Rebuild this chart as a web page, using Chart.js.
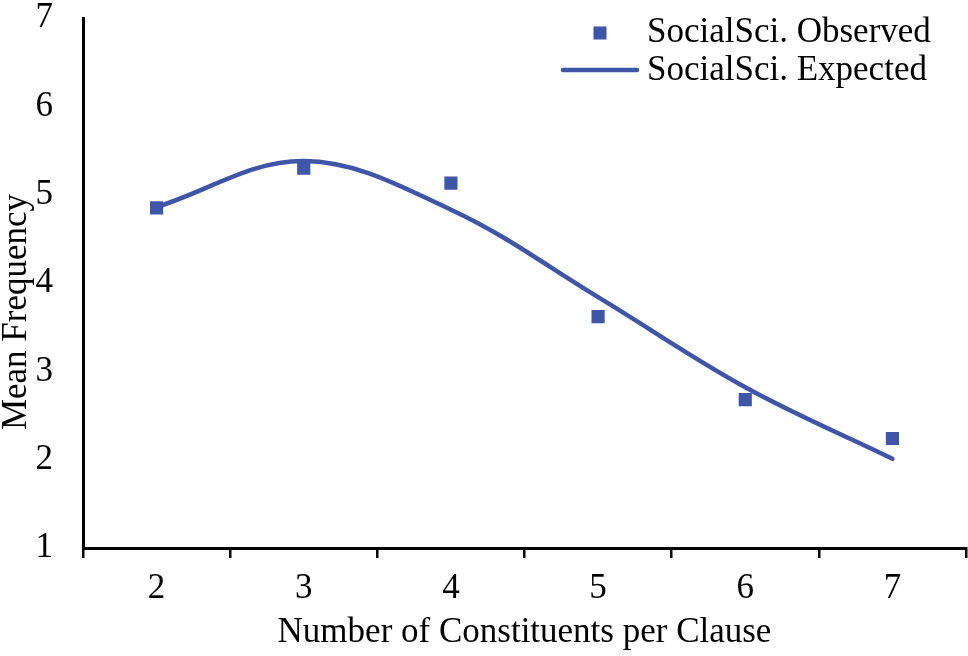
<!DOCTYPE html>
<html>
<head>
<meta charset="utf-8">
<script src="https://cdn.jsdelivr.net/npm/chart.js@4.4.1/dist/chart.umd.min.js"></script>
<style>
  html, body { margin: 0; padding: 0; background: #ffffff; }
  #wrap { width: 968px; height: 656px; position: relative; }
</style>
</head>
<body>
<div id="wrap"><canvas id="c" width="968" height="656"></canvas></div>
<script>
const categories = ['2', '3', '4', '5', '6', '7'];
const observed = [4.85, 5.30, 5.13, 3.62, 2.68, 2.24];
const expected = [4.86, 5.38, 4.83, 3.84, 2.82, 2.01];
const seriesNames = ['SocialSci. Observed', 'SocialSci. Expected'];
const yTicks = [1, 2, 3, 4, 5, 6, 7];
const xTitle = 'Number of Constituents per Clause';
const yTitle = 'Mean Frequency';

const BLUE = '#3F55A7';
const FONT = 'Liberation Serif, Times New Roman, serif';
const FS = 35;

function zeroPadding(scale) {
  scale.paddingTop = 0;
  scale.paddingBottom = 0;
  scale.paddingLeft = 0;
  scale.paddingRight = 0;
}

const overlayPlugin = {
  id: 'overlayText',
  afterDraw(chart) {
    const ctx = chart.ctx;
    const ds = chart.data.datasets;
    const area = chart.chartArea;
    ctx.save();
    ctx.font = FS + 'px ' + FONT;
    ctx.textBaseline = 'middle';
    // y-axis title (Excel places it slightly below centre)
    ctx.save();
    ctx.translate(16.5, (area.top + area.bottom) / 2 + 29);
    ctx.rotate(-Math.PI / 2);
    ctx.textAlign = 'center';
    ctx.fillStyle = '#000';
    ctx.fillText(yTitle, 0, 0);
    ctx.restore();
    // legend inside plot
    ctx.textAlign = 'left';
    ctx.fillStyle = ds[0].pointBackgroundColor;
    ctx.fillRect(593.5, 26.5, 13, 13);
    ctx.fillStyle = '#000';
    ctx.fillText(ds[0].label, 647, 32.5);
    ctx.strokeStyle = ds[1].borderColor;
    ctx.lineWidth = 4.5;
    ctx.lineCap = 'round';
    ctx.beginPath();
    ctx.moveTo(563, 70);
    ctx.lineTo(637, 70);
    ctx.stroke();
    ctx.fillText(ds[1].label, 647, 70.5);
    ctx.restore();
  }
};

new Chart(document.getElementById('c'), {
  type: 'line',
  data: {
    labels: categories,
    datasets: [
      {
        label: seriesNames[0],
        data: observed,
        showLine: false,
        pointStyle: 'rect',
        pointRadius: 9.3,
        pointBorderWidth: 0,
        pointBackgroundColor: BLUE,
        pointBorderColor: BLUE,
        borderColor: BLUE,
        backgroundColor: BLUE,
        order: 0
      },
      {
        label: seriesNames[1],
        data: expected,
        borderColor: BLUE,
        backgroundColor: BLUE,
        borderWidth: 4.5,
        pointRadius: 0,
        tension: 0.36,
        borderCapStyle: 'round',
        fill: false,
        order: 1
      }
    ]
  },
  options: {
    responsive: false,
    animation: false,
    devicePixelRatio: 1,
    layout: { autoPadding: false, padding: { top: 18, right: 2, left: 0, bottom: 0 } },
    plugins: {
      legend: { display: false },
      tooltip: { enabled: false }
    },
    scales: {
      x: {
        type: 'category',
        offset: true,
        grid: {
          offset: true,
          drawOnChartArea: false,
          drawTicks: true,
          tickLength: 10,
          color: '#000',
          lineWidth: 2.5
        },
        border: { display: true, color: '#000', width: 3 },
        ticks: {
          color: '#000',
          font: { family: FONT, size: FS, lineHeight: 1 },
          padding: 13.7,
          maxRotation: 0,
          autoSkip: false
        },
        title: {
          display: true,
          text: xTitle,
          color: '#000',
          font: { family: FONT, size: FS, lineHeight: 1 },
          padding: { top: 0, bottom: 5.3 }
        },
        afterFit(scale) { scale.height = 108; zeroPadding(scale); }
      },
      y: {
        min: 1,
        max: 7,
        afterBuildTicks(scale) { scale.ticks = yTicks.map(v => ({ value: v })); },
        grid: { display: false, drawTicks: false },
        border: { display: true, color: '#000', width: 3 },
        ticks: {
          color: '#000',
          font: { family: FONT, size: FS, lineHeight: 1 },
          padding: 30
        },
        title: { display: false, text: yTitle },
        afterFit(scale) { scale.width = 83; zeroPadding(scale); }
      }
    }
  },
  plugins: [overlayPlugin]
});
</script>
</body>
</html>
